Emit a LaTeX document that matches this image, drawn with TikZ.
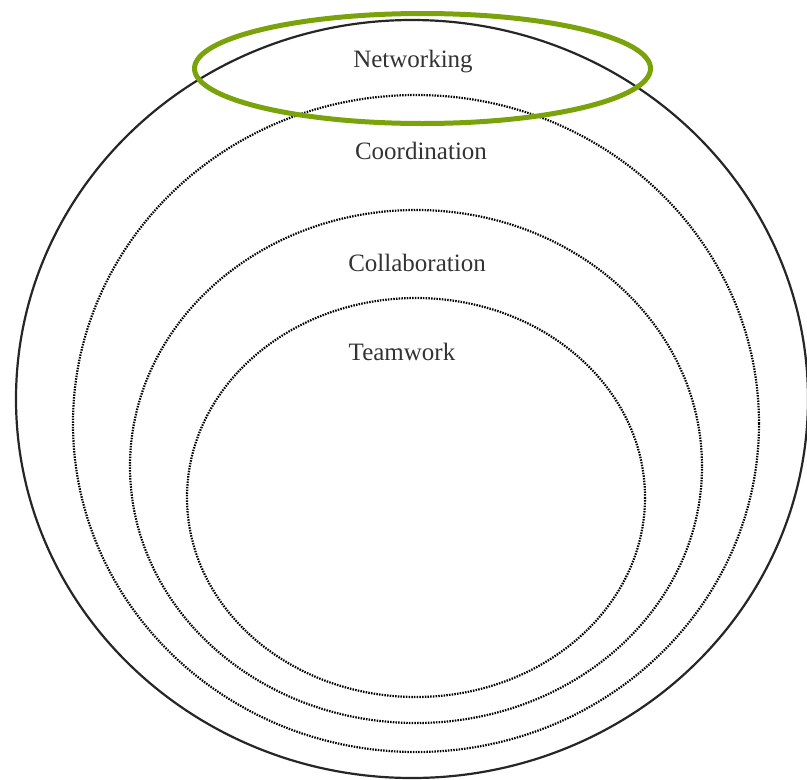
\documentclass[tikz,border=0pt]{standalone}
\usepackage{fontspec}
\setmainfont{Liberation Serif}
\begin{document}
\begin{tikzpicture}[x=1pt,y=-1pt,
  ring/.style={draw=black!85, line width=2.2pt},
  dotring/.style={draw=black, line width=2.2pt, dash pattern=on 1.5pt off 1.2pt},
  lbl/.style={text=black!80, font=\fontsize{25}{29}\selectfont, inner sep=0pt},
  highlight/.style={draw=hl, line width=5pt}]
\definecolor{hl}{RGB}{122,162,10}
\useasboundingbox (0,0) rectangle (807,780);
\clip (0,0) rectangle (807,780);
% nested levels
\draw[ring] (412,399) ellipse [x radius=396, y radius=379];
\draw[dotring] (416,423.5) ellipse [x radius=343, y radius=328.5];
\draw[dotring] (416,466.5) ellipse [x radius=286, y radius=256.5];
\draw[dotring] (416,497.5) ellipse [x radius=229, y radius=199.5];
% labels
\node[lbl] (net) at (413,62) {Networking};
\node[lbl] (coord) at (421,151) {Coordination};
\node[lbl] (collab) at (417,263) {Collaboration};
\node[lbl] (team) at (402,352) {Teamwork};
% emphasis on the outermost level
\draw[highlight] (422.5,68.5) ellipse [x radius=228, y radius=55];
\end{tikzpicture}
\end{document}
